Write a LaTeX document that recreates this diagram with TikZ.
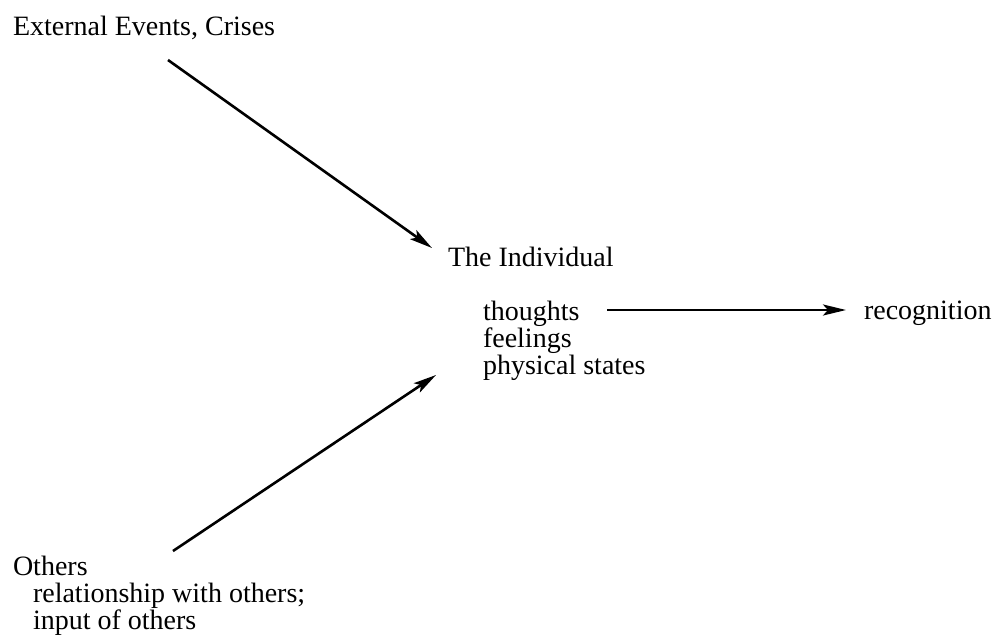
\documentclass[tikz,border=0pt]{standalone}
\usepackage{fontspec}
\setmainfont{Liberation Serif}
\usetikzlibrary{arrows.meta}
\begin{document}
\begin{tikzpicture}[x=1pt,y=-1pt,
  lbl/.style={inner sep=0pt, outer sep=0pt, font=\fontsize{28}{27}\selectfont, align=left},
  arr/.style={line width=2.6pt, -{Stealth[length=23pt,width=11pt,inset=5pt]}}]
\useasboundingbox (0,0) rectangle (1006,641);
\node[lbl, anchor=base west] (ext) at (13,35) {External Events, Crises};
\node[lbl, anchor=base west] (indiv) at (448,266) {The Individual};
\node[lbl, anchor=north west] (states) at (483,301) {thoughts\\feelings\\physical states};
\node[lbl, anchor=base west] (recog) at (864,319) {recognition};
\node[lbl, anchor=north west] (others) at (13,556) {Others\\\hspace{20pt}relationship with others;\\\hspace{20pt}input of others};
\coordinate (a1s) at (168,60);
\coordinate (a1e) at (432,248);
\coordinate (a2s) at (173,551);
\coordinate (a2e) at (436,375);
\coordinate (a3s) at (607,310);
\coordinate (a3e) at (846,310);
\draw[arr] (a1s) -- (a1e);
\draw[arr] (a2s) -- (a2e);
\draw[arr] (a3s) -- (a3e);
\end{tikzpicture}
\end{document}
